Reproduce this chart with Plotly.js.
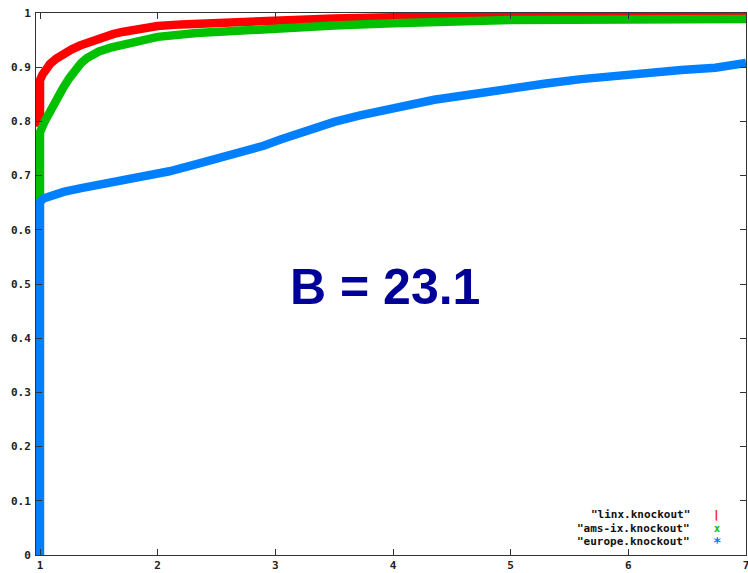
<!DOCTYPE html>
<html>
<head>
<meta charset="utf-8">
<script src="https://cdn.plot.ly/plotly-3.0.1.min.js"></script>
<style>
  html, body { margin: 0; padding: 0; background: #ffffff; }
  #chart { width: 748px; height: 573px; }
</style>
</head>
<body>
<div id="chart"></div>
<script>
// Series values
const linxX = [1, 1, 1.02, 1.05, 1.085, 1.14, 1.2, 1.27, 1.34, 1.41, 1.48, 1.55, 1.62, 1.7, 1.8, 1.9, 2.0, 2.2, 2.4, 2.6, 2.8, 3.0, 3.5, 4.0, 4.75, 5.5, 6.3, 7.0];
const linxY = [0.79, 0.876, 0.886, 0.897, 0.906, 0.916, 0.925, 0.933, 0.940, 0.946, 0.952, 0.957, 0.961, 0.965, 0.969, 0.973, 0.976, 0.979, 0.981, 0.983, 0.985, 0.987, 0.990, 0.992, 0.995, 0.996, 0.996, 0.996];

const amsixX = [1, 1, 1.04, 1.085, 1.14, 1.2, 1.25, 1.3, 1.35, 1.4, 1.45, 1.5, 1.6, 1.7, 1.8, 1.9, 2.0, 2.33, 2.62, 3.04, 3.5, 4.0, 4.5, 5.0, 6.0, 7.0];
const amsixY = [0.65, 0.78, 0.80, 0.82, 0.842, 0.863, 0.880, 0.896, 0.908, 0.917, 0.924, 0.929, 0.936, 0.942, 0.947, 0.952, 0.956, 0.963, 0.967, 0.972, 0.977, 0.981, 0.984, 0.987, 0.988, 0.989];

const europeX = [1, 1, 1.03, 1.1, 1.2, 1.35, 1.5, 1.7, 1.9, 2.1, 2.33, 2.55, 2.76, 2.9, 3.05, 3.2, 3.35, 3.5, 3.72, 3.95, 4.15, 4.35, 4.57, 4.8, 5.03, 5.3, 5.6, 5.9, 6.17, 6.45, 6.74, 6.9, 7.0];
const europeY = [0, 0.651, 0.658, 0.664, 0.670, 0.677, 0.683, 0.690, 0.697, 0.708, 0.721, 0.733, 0.745, 0.755, 0.767, 0.778, 0.789, 0.799, 0.811, 0.823, 0.832, 0.840, 0.847, 0.855, 0.862, 0.870, 0.878, 0.885, 0.891, 0.895, 0.899, 0.904, 0.908];

const seriesNames = ['"linx.knockout"', '"ams-ix.knockout"', '"europe.knockout"'];
const seriesSymbols = ['|', 'x', '*'];
const seriesColors = ['#ff0000', '#00c000', '#0080ff'];

const xTicks = [1, 2, 3, 4, 5, 6, 7];
const xTickText = ['1', '2', '3', '4', '5', '6', '7'];
const yTicks = [0, 0.1, 0.2, 0.3, 0.4, 0.5, 0.6, 0.7, 0.8, 0.9, 1];
const yTickText = ['0', '0.1', '0.2', '0.3', '0.4', '0.5', '0.6', '0.7', '0.8', '0.9', '1'];

const bigLabel = 'B = 23.1';

const xs = [linxX, amsixX, europeX];
const ys = [linxY, amsixY, europeY];

const traces = xs.map((x, i) => ({
  x: x,
  y: ys[i],
  type: 'scatter',
  mode: 'lines',
  name: seriesNames[i],
  line: { color: seriesColors[i], width: 8.5 },
  hoverinfo: 'skip'
}));

const tickFont = { family: 'DejaVu Sans Mono', size: 11, color: '#222222', weight: 'bold' };

const annotations = [
  {
    xref: 'paper', yref: 'paper', x: 0.4915, y: 0.494,
    xanchor: 'center', yanchor: 'middle',
    text: bigLabel, showarrow: false,
    font: { family: 'Liberation Sans', size: 50, color: '#000099', weight: 'bold' }
  }
];
const legendRowsY = [0.074, 0.048, 0.024];
const symbolSizes = [11, 10, 14];
seriesNames.forEach((n, i) => {
  annotations.push({
    xref: 'paper', yref: 'paper', x: 0.924, y: legendRowsY[i],
    xanchor: 'right', yanchor: 'middle', showarrow: false,
    text: n, font: { family: 'DejaVu Sans Mono', size: 11, color: '#111111', weight: 'bold' }
  });
  annotations.push({
    xref: 'paper', yref: 'paper', x: 0.959, y: legendRowsY[i],
    xanchor: 'center', yanchor: 'middle', showarrow: false,
    text: seriesSymbols[i], font: { family: 'DejaVu Sans Mono', size: symbolSizes[i], color: seriesColors[i], weight: 'bold' }
  });
});

const layout = {
  width: 748, height: 573,
  margin: { l: 36, r: 2, t: 13, b: 18, pad: 0 },
  paper_bgcolor: '#ffffff',
  plot_bgcolor: '#ffffff',
  showlegend: false,
  xaxis: {
    range: [0.966, 7.0],
    tickmode: 'array', tickvals: xTicks, ticktext: xTickText,
    ticks: 'inside', ticklen: 6, tickwidth: 1, tickcolor: '#333333',
    showline: true, linecolor: '#333333', linewidth: 1, mirror: 'allticks',
    showgrid: false, zeroline: false,
    ticklabeloverflow: 'allow',
    tickfont: tickFont
  },
  yaxis: {
    range: [0, 1],
    tickmode: 'array', tickvals: yTicks, ticktext: yTickText,
    ticks: 'inside', ticklen: 6, tickwidth: 1, tickcolor: '#333333',
    showline: true, linecolor: '#333333', linewidth: 1, mirror: 'allticks',
    showgrid: false, zeroline: false,
    ticklabelstandoff: 2,
    ticklabeloverflow: 'allow',
    tickfont: tickFont
  },
  annotations: annotations
};

Plotly.newPlot('chart', traces, layout, { staticPlot: true, displayModeBar: false });
</script>
</body>
</html>
